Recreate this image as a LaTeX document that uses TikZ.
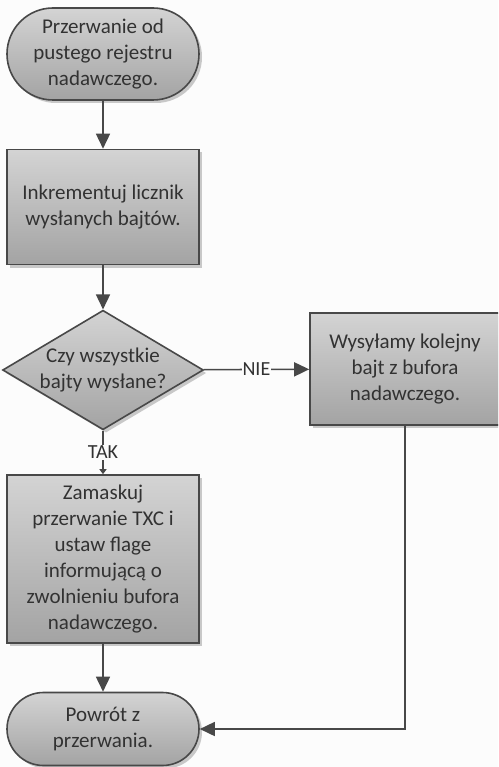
\documentclass[tikz,border=0pt]{standalone}
\usepackage{fontspec}
\setmainfont{Carlito}
\usepackage{tikz}
\usetikzlibrary{shapes.misc,shapes.geometric,shadows,arrows.meta}
\definecolor{linegray}{RGB}{72,72,72}
\definecolor{textgray}{RGB}{50,50,50}
\definecolor{bggray}{RGB}{252,252,252}
\tikzset{block/.style={draw=linegray, line width=1.6pt, top color=black!17, bottom color=black!36,
         text=textgray, align=center, inner sep=0pt, font=\fontsize{21}{26}\selectfont,
         drop shadow={shadow xshift=3pt, shadow yshift=-3pt, fill=black!35, opacity=0.6}},
         terminal/.style={block, rounded rectangle, minimum width=192pt, minimum height=#1},
         proc/.style={block, rectangle, minimum width=192pt, minimum height=#1},
         decision/.style={block, diamond, aspect=1.68, minimum width=191pt, minimum height=114pt},
         flow/.style={draw=linegray, line width=1.6pt, -{Triangle[width=14pt,length=15pt]}},
         answer/.style={fill=bggray, text=textgray, inner sep=1pt, font=\fontsize{20}{24}\selectfont}}

\begin{document}
\begin{tikzpicture}[x=1pt,y=-1pt]
\useasboundingbox (0,0) rectangle (498,767);
\clip (0,0) rectangle (498,767);
\fill [bggray] (0,0) rectangle (498,767);

\node [terminal=92pt] (start) at (103,54) {Przerwanie od\\pustego rejestru\\nadawczego.};
\node [proc=115pt] (inc) at (103,207) {Inkrementuj licznik\\wysłanych bajtów.};
\node [decision] (check) at (103,370) {Czy wszystkie\\bajty wysłane?};
\node [proc=112pt, minimum width=190pt] (send) at (405,369) {Wysyłamy kolejny\\bajt z bufora\\nadawczego.};
\node [proc=168pt] (mask) at (103,559) {Zamaskuj\\przerwanie TXC i\\ustaw flage\\informującą o\\zwolnieniu bufora\\nadawczego.};
\node [terminal=73pt] (ret) at (103,729) {Powrót z\\przerwania.};

\draw [flow] (start) -- (inc);
\draw [flow] (inc) -- (check);
\draw [flow] (check) -- node [answer] {NIE} (send);
\draw [flow, -{Triangle[width=7pt,length=5pt]}] (check) -- node [answer] {TAK} (mask);
\draw [flow] (mask) -- (ret);
\draw [flow] (send.south) |- (ret.east);
\end{tikzpicture}
\end{document}
